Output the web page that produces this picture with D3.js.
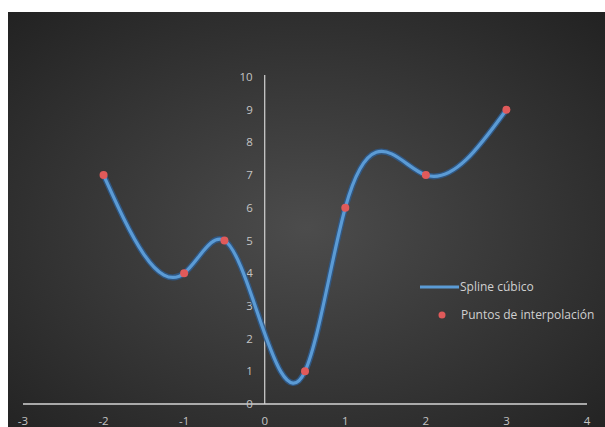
<!DOCTYPE html>
<html>
<head>
<meta charset="utf-8">
<script src="https://cdn.jsdelivr.net/npm/d3@7"></script>
<style>
  html, body { margin: 0; padding: 0; background: #fff; }
  svg { display: block; }
</style>
</head>
<body>
<svg id="chart" width="605" height="427"></svg>
<script>
// Data
const xs = [-2, -1, -0.5, 0.5, 1, 2, 3];
const ys = [7, 4, 5, 1, 6, 7, 9];
const xTicks = [-3, -2, -1, 0, 1, 2, 3, 4];
const yTicks = [0, 1, 2, 3, 4, 5, 6, 7, 8, 9, 10];
const legendLabels = ["Spline cúbico", "Puntos de interpolación"];

const W = 605, H = 427;
const svg = d3.select("#chart");

// Background gradient
const defs = svg.append("defs");
const grad = defs.append("radialGradient").attr("id", "bg")
  .attr("cx", "50%").attr("cy", "52%").attr("r", "72%");
grad.append("stop").attr("offset", "0%").attr("stop-color", "#4c4c4c");
grad.append("stop").attr("offset", "100%").attr("stop-color", "#222222");
svg.append("rect").attr("x", 8).attr("y", 12).attr("width", W - 8).attr("height", H - 12)
  .attr("fill", "url(#bg)");

const x = d3.scaleLinear().domain([-3, 4]).range([23, 587]);
const y = d3.scaleLinear().domain([0, 10]).range([404, 77]);

// Natural cubic spline curve parameterised by x
function NaturalX(context) { this._context = context; }
NaturalX.prototype = {
  areaStart() { this._line = 0; },
  areaEnd() { this._line = NaN; },
  lineStart() { this._x = []; this._y = []; },
  point(px, py) { this._x.push(+px); this._y.push(+py); },
  lineEnd() {
    const X = this._x, Y = this._y, n = X.length, c = this._context;
    if (!n) return;
    c.moveTo(X[0], Y[0]);
    if (n < 3) { if (n === 2) c.lineTo(X[1], Y[1]); return; }
    const h = [];
    for (let i = 0; i < n - 1; i++) h.push(X[i + 1] - X[i]);
    const M = new Array(n).fill(0);
    const a = [], b = [], cc = [], d = [];
    for (let i = 1; i < n - 1; i++) {
      a.push(h[i - 1]);
      b.push(2 * (h[i - 1] + h[i]));
      cc.push(h[i]);
      d.push(6 * ((Y[i + 1] - Y[i]) / h[i] - (Y[i] - Y[i - 1]) / h[i - 1]));
    }
    const m = b.length;
    for (let i = 1; i < m; i++) {
      const w = a[i] / b[i - 1];
      b[i] -= w * cc[i - 1];
      d[i] -= w * d[i - 1];
    }
    const sol = new Array(m);
    sol[m - 1] = d[m - 1] / b[m - 1];
    for (let i = m - 2; i >= 0; i--) sol[i] = (d[i] - cc[i] * sol[i + 1]) / b[i];
    for (let i = 0; i < m; i++) M[i + 1] = sol[i];
    for (let i = 0; i < n - 1; i++) {
      const hh = h[i], s = (Y[i + 1] - Y[i]) / hh;
      const m0 = s - hh * (2 * M[i] + M[i + 1]) / 6;
      const m1 = s + hh * (M[i] + 2 * M[i + 1]) / 6;
      c.bezierCurveTo(X[i] + hh / 3, Y[i] + m0 * hh / 3,
                      X[i + 1] - hh / 3, Y[i + 1] - m1 * hh / 3,
                      X[i + 1], Y[i + 1]);
    }
  }
};
const curveNaturalX = ctx => new NaturalX(ctx);

const font = "'Open Sans', 'Liberation Sans', sans-serif";

// Axes lines
svg.append("line").attr("x1", x(-3)).attr("x2", x(4)).attr("y1", y(0)).attr("y2", y(0))
  .attr("stroke", "#d4d4d4").attr("stroke-width", 1.5);
svg.append("line").attr("x1", x(0)).attr("x2", x(0)).attr("y1", y(10) - 2).attr("y2", y(0))
  .attr("stroke", "#d4d4d4").attr("stroke-width", 1.2);

// Tick labels
svg.append("g").selectAll("text").data(xTicks).join("text")
  .attr("x", d => x(d)).attr("y", 425)
  .attr("text-anchor", "middle")
  .attr("font-family", font).attr("font-size", 11.5).attr("fill", "#c4c4c4")
  .text(d => d);
svg.append("g").selectAll("text").data(yTicks).join("text")
  .attr("x", x(0) - 12).attr("y", d => y(d) + 4)
  .attr("text-anchor", "end")
  .attr("font-family", font).attr("font-size", 11.5).attr("fill", "#c4c4c4")
  .text(d => d);

// Spline line
const pts = xs.map((d, i) => [d, ys[i]]);
const line = d3.line().x(d => x(d[0])).y(d => y(d[1])).curve(curveNaturalX);
svg.append("path").attr("d", line(pts)).attr("fill", "none")
  .attr("stroke", "#2f5a8a").attr("stroke-width", 6).attr("stroke-linecap", "round").attr("opacity", 0.9);
svg.append("path").attr("d", line(pts)).attr("fill", "none")
  .attr("stroke", "#5b9bd5").attr("stroke-width", 3.2).attr("stroke-linecap", "round");

// Points
svg.append("g").selectAll("circle").data(pts).join("circle")
  .attr("cx", d => x(d[0])).attr("cy", d => y(d[1])).attr("r", 4)
  .attr("fill", "#e05a5a");

// Legend
const lg = svg.append("g");
lg.append("line").attr("x1", 420).attr("x2", 459).attr("y1", 287).attr("y2", 287)
  .attr("stroke", "#5b9bd5").attr("stroke-width", 3);
lg.append("text").attr("x", 460).attr("y", 291).attr("font-family", font)
  .attr("font-size", 12).attr("fill", "#d0d0d0").text(legendLabels[0]);
lg.append("circle").attr("cx", 442).attr("cy", 315).attr("r", 3.5).attr("fill", "#e05a5a");
lg.append("text").attr("x", 461).attr("y", 319).attr("font-family", font)
  .attr("font-size", 12).attr("fill", "#d0d0d0").text(legendLabels[1]);
</script>
</body>
</html>
